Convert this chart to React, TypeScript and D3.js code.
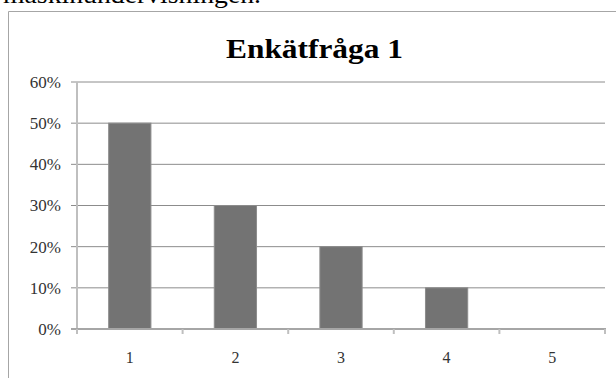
import React from "react";
import * as d3 from "d3";

// Survey question 1: share of answers per response option
const categories = ["1", "2", "3", "4", "5"];
const shares = [0.5, 0.3, 0.2, 0.1, 0];
const yTicks = [0, 0.1, 0.2, 0.3, 0.4, 0.5, 0.6];
const title = "Enkätfråga 1";
const precedingText = "maskinundervisningen.";

const W = 616;
const H = 378;
const plot = { left: 77, right: 605, top: 82, bottom: 329 };

export default function App() {
  const x = d3
    .scaleBand<string>()
    .domain(categories)
    .range([plot.left, plot.right])
    .paddingInner(0.6)
    .paddingOuter(0.3);
  const y = d3.scaleLinear().domain([0, 0.6]).range([plot.bottom, plot.top]);
  const fmt = d3.format(".0%");
  const step = x.step();
  const boundaries = d3.range(categories.length + 1).map((i) => plot.left + i * step);

  return (
    <svg
      width={W}
      height={H}
      style={{ position: "absolute", left: 0, top: 0, background: "#fff" }}
    >
      {/* line of body text above the chart, cut by the top edge */}
      <text
        x={3}
        y={3}
        fontFamily="'Liberation Serif', serif"
        fontSize={26}
        textLength={258}
        lengthAdjust="spacingAndGlyphs"
        fill="#000"
      >
        {precedingText}
      </text>

      {/* chart frame */}
      <path d={`M8.5,${H} V11.5 H${W}`} fill="none" stroke="#a6a6a6" strokeWidth={1} />

      <text
        x={314.5}
        y={58}
        textAnchor="middle"
        fontFamily="'Liberation Serif', serif"
        fontWeight="bold"
        fontSize={28}
        textLength={177}
        lengthAdjust="spacingAndGlyphs"
        fill="#000"
      >
        {title}
      </text>

      {/* gridlines and y ticks */}
      {yTicks.map((t) => (
        <g key={t}>
          {t > 0 && (
            <line
              x1={plot.left}
              x2={plot.right}
              y1={y(t)}
              y2={y(t)}
              stroke="#8c8c8c"
              strokeWidth={1}
            />
          )}
          <line x1={71} x2={plot.left} y1={y(t)} y2={y(t)} stroke="#8c8c8c" strokeWidth={1} />
          <text
            x={61}
            y={y(t)}
            dy="0.35em"
            textAnchor="end"
            fontFamily="'Liberation Serif', serif"
            fontSize={17}
            fill="#333"
          >
            {fmt(t)}
          </text>
        </g>
      ))}

      {/* bars */}
      {categories.map((c, i) =>
        shares[i] > 0 ? (
          <rect
            key={c}
            x={x(c)}
            y={y(shares[i])}
            width={x.bandwidth()}
            height={y(0) - y(shares[i])}
            fill="#737373"
            stroke="#8c8c8c"
            strokeWidth={1}
          />
        ) : null
      )}

      {/* y axis */}
      <line
        x1={plot.left}
        x2={plot.left}
        y1={plot.top}
        y2={plot.bottom + 5}
        stroke="#bfbfbf"
        strokeWidth={2}
      />
      {/* x axis with category boundary ticks */}
      <line x1={71} x2={plot.right + 1} y1={plot.bottom} y2={plot.bottom} stroke="#a6a6a6" strokeWidth={2} />
      {boundaries.map((bx) => (
        <line
          key={bx}
          x1={bx}
          x2={bx}
          y1={plot.bottom}
          y2={plot.bottom + 5}
          stroke="#bfbfbf"
          strokeWidth={2}
        />
      ))}
      {categories.map((c) => (
        <text
          key={c}
          x={(x(c) ?? 0) + x.bandwidth() / 2}
          y={363}
          textAnchor="middle"
          fontFamily="'Liberation Serif', serif"
          fontSize={16}
          fill="#333"
        >
          {c}
        </text>
      ))}
    </svg>
  );
}
